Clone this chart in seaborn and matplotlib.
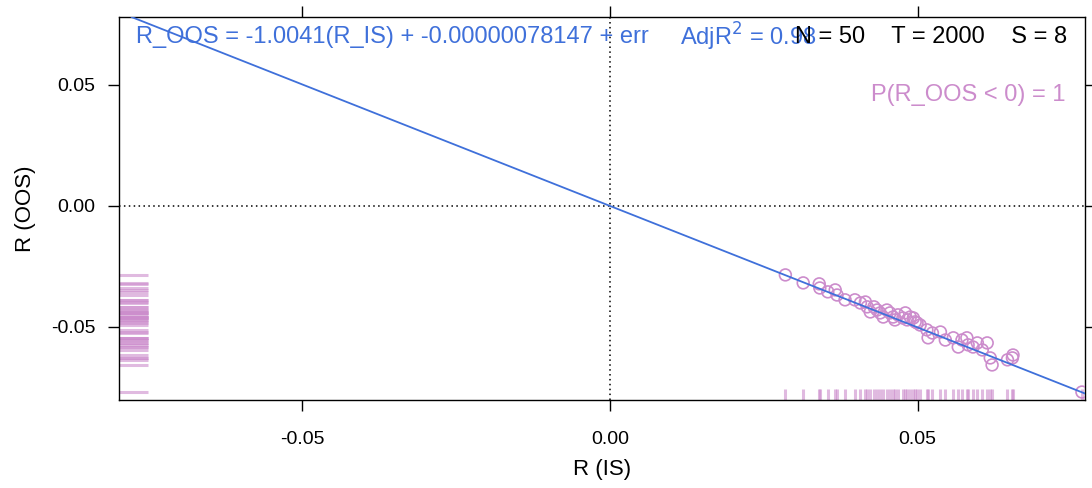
import matplotlib
matplotlib.use("Agg")
import matplotlib.pyplot as plt
import seaborn as sns
import numpy as np
import pandas as pd

# ---- data ----
r_is = [0.0285, 0.0314, 0.0340, 0.0341, 0.0354, 0.0366, 0.0369, 0.0382, 0.0398, 0.0407,
        0.0415, 0.0418, 0.0423, 0.0434, 0.0439, 0.0444, 0.0450, 0.0455, 0.0460, 0.0463,
        0.0468, 0.0476, 0.0483, 0.0488, 0.0493, 0.0496, 0.0499, 0.0504, 0.0515, 0.0517,
        0.0524, 0.0537, 0.0545, 0.0558, 0.0566, 0.0572, 0.0580, 0.0582, 0.0590, 0.0597,
        0.0605, 0.0613, 0.0618, 0.0621, 0.0646, 0.0654, 0.0655, 0.0767, 0.0429, 0.0480]
r_oos = [-0.0285, -0.0318, -0.0322, -0.0339, -0.0355, -0.0347, -0.0368, -0.0388, -0.0388, -0.0401,
         -0.0397, -0.0417, -0.0438, -0.0430, -0.0442, -0.0459, -0.0430, -0.0442, -0.0459, -0.0471,
         -0.0450, -0.0463, -0.0471, -0.0459, -0.0463, -0.0479, -0.0483, -0.0492, -0.0512, -0.0545,
         -0.0525, -0.0521, -0.0554, -0.0545, -0.0583, -0.0554, -0.0545, -0.0574, -0.0583, -0.0566,
         -0.0595, -0.0566, -0.0628, -0.0657, -0.0636, -0.0628, -0.0616, -0.0769, -0.0417, -0.0442]
slope = -1.0041
intercept = -0.00000078147
adj_r2 = "0.98"
n_val, t_val, s_val = 50, 2000, 8
x_ticks = [-0.05, 0.00, 0.05]
y_ticks = [-0.05, 0.00, 0.05]
x_lim = (-0.0798, 0.0772)
y_lim = (-0.0802, 0.0781)

df = pd.DataFrame({"R_IS": r_is, "R_OOS": r_oos})

BLUE = "#3F70DA"
PURPLE = "#CC8CCC"

sns.set_style("ticks")
plt.rcParams["font.family"] = ["Liberation Sans", "DejaVu Sans"]
plt.rcParams["text.color"] = "black"
plt.rcParams["axes.labelcolor"] = "black"
plt.rcParams["xtick.color"] = "black"
plt.rcParams["ytick.color"] = "black"

fig = plt.figure(figsize=(10.92, 4.88), dpi=100)
ax = fig.add_axes([0.109, 0.1803, 0.8846, 0.7849])

ax.axvline(0, color="black", lw=1.1, ls=(0, (1, 2.2)), zorder=1)
ax.axhline(0, color="black", lw=1.1, ls=(0, (1, 2.2)), zorder=1)

sns.rugplot(data=df, x="R_IS", height=0.03, color=PURPLE, alpha=0.6, linewidth=2.2, ax=ax)
sns.rugplot(data=df, y="R_OOS", height=0.03, color=PURPLE, alpha=0.6, linewidth=2.2, ax=ax)
sns.scatterplot(data=df, x="R_IS", y="R_OOS", marker="o", s=72, facecolor="none",
                edgecolor=PURPLE, linewidth=1.2, ax=ax, zorder=3)
ax.axline((0, intercept), slope=slope, color=BLUE, lw=1.3, zorder=4)

ax.set_xlim(*x_lim)
ax.set_ylim(*y_lim)
ax.set_xticks(x_ticks)
ax.set_yticks(y_ticks)
ax.set_xticklabels([f"{v:.2f}" for v in x_ticks])
ax.set_yticklabels([f"{v:.2f}" for v in y_ticks])
ax.tick_params(axis="both", which="both", direction="out", length=8, width=1,
               labelsize=14, top=True, right=True, labeltop=False, labelright=False,
               color="black", labelcolor="black", pad=9)
ax.tick_params(axis="x", pad=14)
for sp in ax.spines.values():
    sp.set_visible(True)
    sp.set_color("black")
    sp.set_linewidth(1)

ax.set_xlabel("R (IS)", fontsize=16, labelpad=8, color="black")
ax.set_ylabel("R (OOS)", fontsize=16, labelpad=11, color="black")

ax.text(0.0176, 0.948, f"R_OOS = {slope}(R_IS) + {intercept:.11f}".rstrip("0") + " + err",
        transform=ax.transAxes, color=BLUE, fontsize=17, ha="left", va="center")
ax.text(0.581, 0.948, f"AdjR$^2$ = {adj_r2}", transform=ax.transAxes, color=BLUE,
        fontsize=17, ha="left", va="center")
ax.text(0.982, 0.948, f"N = {n_val}    T = {t_val}    S = {s_val}", transform=ax.transAxes,
        color="black", fontsize=17, ha="right", va="center")
ax.text(0.980, 0.796, "P(R_OOS < 0) = 1", transform=ax.transAxes, color=PURPLE,
        fontsize=17, ha="right", va="center")

fig.savefig("out.png", dpi=100)
